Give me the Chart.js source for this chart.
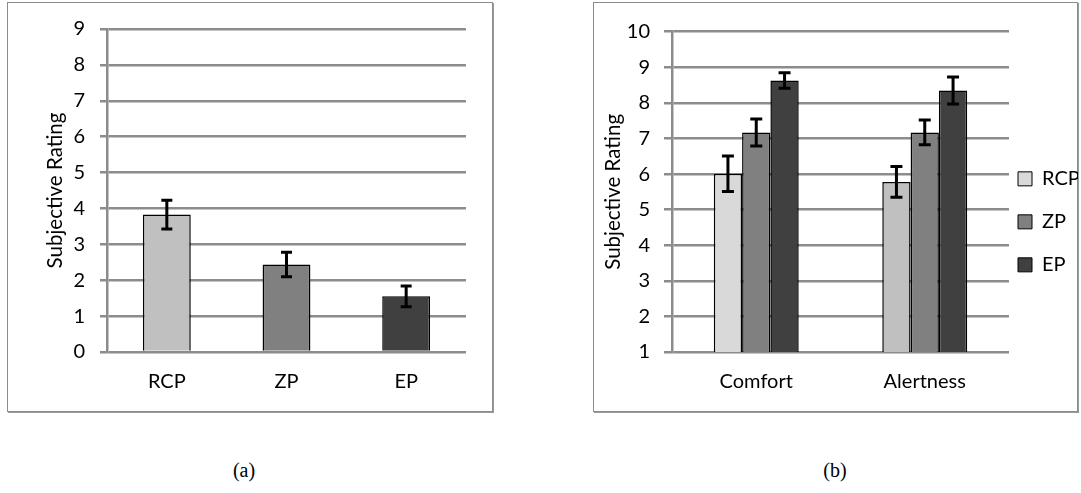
<!DOCTYPE html>
<html>
<head>
<meta charset="utf-8">
<script src="https://cdn.jsdelivr.net/npm/chart.js@4"></script>
<style>
  body { margin: 0; background: #fff; width: 1081px; height: 493px; position: relative; overflow: hidden; }
  .box { position: absolute; box-sizing: border-box; border: 1px solid #8c8c8c; box-shadow: 1px 1px 0 #9a9a9a; }
  canvas { position: absolute; }
  .cap { position: absolute; top: 459px; width: 100px; text-align: center; font-family: "Liberation Serif", serif; font-size: 20px; color: #000; }
</style>
</head>
<body>
<div class="box" style="left:7px;top:2px;width:486px;height:410px"></div>
<div class="box" style="left:593px;top:2px;width:485px;height:410px"></div>
<canvas id="chartA" width="487" height="411" style="left:7px;top:1px"></canvas>
<canvas id="chartB" width="485" height="411" style="left:593px;top:1px"></canvas>
<div class="cap" style="left:194px">(a)</div>
<div class="cap" style="left:785px">(b)</div>
<script>
// (a) overall rating per condition
const catsA = ['RCP', 'ZP', 'EP'];
const meanA = [3.83, 2.44, 1.55];
const errA = [0.40, 0.34, 0.29];
const colorsA = ['#c0c0c0', '#808080', '#404040'];

// (b) comfort / alertness
const catsB = ['Comfort', 'Alertness'];
const seriesB = ['RCP', 'ZP', 'EP'];
const rcpB = [6.01, 5.78];
const rcpErrB = [0.50, 0.43];
const zpB = [7.17, 7.17];
const zpErrB = [0.38, 0.35];
const epB = [8.63, 8.35];
const epErrB = [0.22, 0.38];
const colorsB = [['#d9d9d9', '#c0c0c0'], '#808080', '#404040'];

const gridCol = '#8c8c8c';
const fontFam = 'Lato, "Open Sans", sans-serif';

const errorBars = {
  id: 'errorBars',
  afterDatasetsDraw(chart, args, opts) {
    const ctx = chart.ctx;
    const y = chart.scales.y;
    ctx.save();
    ctx.strokeStyle = '#000';
    ctx.lineWidth = opts.width;
    chart.data.datasets.forEach((ds, di) => {
      const meta = chart.getDatasetMeta(di);
      meta.data.forEach((bar, i) => {
        const v = ds.data[i], e = ds.errors[i];
        const top = y.getPixelForValue(v + e), bot = y.getPixelForValue(v - e);
        ctx.beginPath();
        ctx.moveTo(bar.x, top); ctx.lineTo(bar.x, bot);
        ctx.moveTo(bar.x - opts.cap, top); ctx.lineTo(bar.x + opts.cap, top);
        ctx.moveTo(bar.x - opts.cap, bot); ctx.lineTo(bar.x + opts.cap, bot);
        ctx.stroke();
      });
    });
    ctx.restore();
  }
};

// fixed legend width, legend sits close to the plot but keeps big vertical spacing
const legendNudge = {
  id: 'legendNudge',
  beforeLayout(chart, args, opts) {
    const lg = chart.legend;
    if (lg && !lg._fixedFit) {
      const fit = lg.fit.bind(lg);
      lg.fit = function () { fit(); this.width = opts.width; };
      lg._fixedFit = true;
    }
  },
  afterLayout(chart, args, opts) {
    const lg = chart.legend;
    if (lg && lg.options.display) {
      lg.left = chart.chartArea.right + opts.gap - lg.options.labels.padding;
      lg.right = chart.width;
      lg.width = lg.right - lg.left;
    }
  }
};

Chart.defaults.font.family = fontFam;
Chart.defaults.font.size = 20;
Chart.defaults.color = '#000';

function yScale(min, max, width, tick, pad, titlePad) {
  return {
    min: min, max: max,
    afterFit: (s) => { s.width = width; },
    ticks: { stepSize: 1, padding: pad },
    grid: { color: gridCol, lineWidth: 2.5, tickLength: tick },
    border: { display: true, color: gridCol, width: 2.5 },
    title: { display: true, text: 'Subjective Rating', font: { size: 20.5 }, padding: { top: titlePad, bottom: 0 } }
  };
}

function xScale() {
  return {
    grid: { display: false, drawTicks: false },
    border: { display: false },
    ticks: { padding: 18 }
  };
}

new Chart(document.getElementById('chartA'), {
  type: 'bar',
  data: {
    labels: catsA,
    datasets: [{
      data: meanA,
      errors: errA,
      backgroundColor: colorsA,
      borderColor: '#000',
      borderWidth: 1.5,
      barPercentage: 0.4,
      categoryPercentage: 1
    }]
  },
  options: {
    responsive: false,
    animation: false,
    layout: { padding: { left: 0, top: 28, right: 28, bottom: 0 } },
    scales: { x: xScale(), y: yScale(0, 9, 100, 7, 15, 36) },
    plugins: {
      legend: { display: false },
      tooltip: { enabled: false },
      errorBars: { width: 3, cap: 5.5 }
    }
  },
  plugins: [errorBars]
});

const dsB = [rcpB, zpB, epB].map((vals, i) => ({
  label: seriesB[i],
  data: vals,
  errors: [rcpErrB, zpErrB, epErrB][i],
  backgroundColor: colorsB[i],
  borderColor: '#000',
  borderWidth: 1.5,
  barPercentage: 1,
  categoryPercentage: 0.504
}));

new Chart(document.getElementById('chartB'), {
  type: 'bar',
  data: { labels: catsB, datasets: dsB },
  options: {
    responsive: false,
    animation: false,
    layout: { padding: { left: 0, top: 30.7, right: 0, bottom: 0 } },
    scales: { x: xScale(), y: yScale(1, 10, 79, 8, 14, 8) },
    plugins: {
      legend: {
        position: 'right',
        labels: {
          boxWidth: 14,
          boxHeight: 14,
          padding: 23,
          generateLabels: (chart) => chart.data.datasets.map((ds, i) => ({
            text: ds.label,
            fillStyle: Array.isArray(ds.backgroundColor) ? ds.backgroundColor[0] : ds.backgroundColor,
            strokeStyle: '#000',
            lineWidth: 1,
            datasetIndex: i
          }))
        }
      },
      legendNudge: { gap: 9, width: 69 },
      tooltip: { enabled: false },
      errorBars: { width: 3, cap: 6 }
    }
  },
  plugins: [errorBars, legendNudge]
});
</script>
</body>
</html>
